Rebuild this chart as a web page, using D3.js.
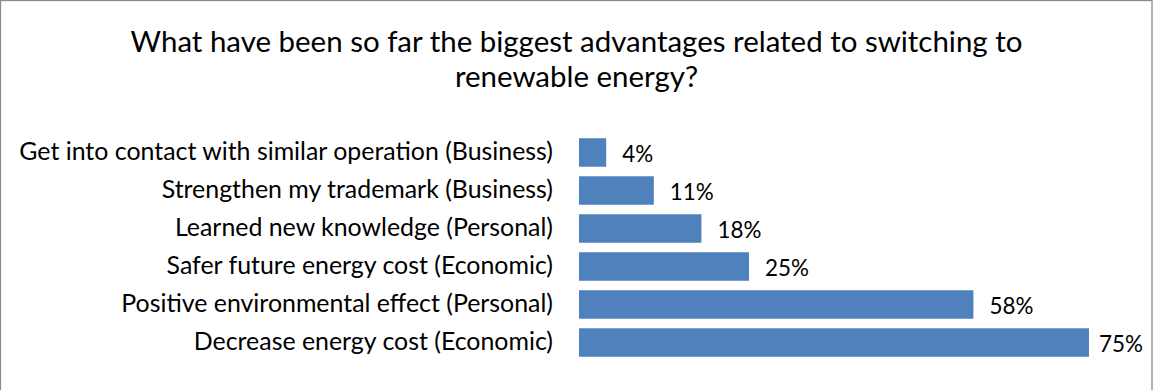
<!DOCTYPE html>
<html>
<head>
<meta charset="utf-8">
<script src="https://cdn.jsdelivr.net/npm/d3@7"></script>
<style>
  html, body { margin: 0; padding: 0; background: #fff; }
  svg { display: block; }
  text { font-family: Lato, "Open Sans", "DejaVu Sans", sans-serif; fill: #000; }
</style>
</head>
<body>
<svg id="chart" width="1153" height="390"></svg>
<script>
// Survey answers, listed top to bottom as shown
const categories = [
  "Get into contact with similar operation (Business)",
  "Strengthen my trademark (Business)",
  "Learned new knowledge (Personal)",
  "Safer future energy cost (Economic)",
  "Positive environmental effect (Personal)",
  "Decrease energy cost (Economic)"
];
const shares = [4, 11, 18, 25, 58, 75];   // percent of respondents
const valueLabels = ["4%", "11%", "18%", "25%", "58%", "75%"];
const titleLines = [
  "What have been so far the biggest advantages related to switching to",
  "renewable energy?"
];

const W = 1153, H = 390;
const svg = d3.select("#chart");

// chart frame
svg.append("rect")
  .attr("x", 0.5).attr("y", 0.5)
  .attr("width", W - 1.5).attr("height", H + 4)
  .attr("fill", "#fff")
  .attr("stroke", "#8c8c8c").attr("stroke-width", 1.3);

// shrink/grow a text selection's font so that its widest item spans `target` px
function fitWidth(sel, target, start) {
  sel.style("font-size", start + "px");
  let widest = 0;
  sel.each(function () { widest = Math.max(widest, this.getComputedTextLength()); });
  sel.style("font-size", (start * target / widest) + "px");
}

// title
const title = svg.append("g").selectAll("text")
  .data(titleLines).join("text")
  .attr("x", W / 2)
  .attr("y", (d, i) => 51.7 + i * 35)
  .attr("text-anchor", "middle")
  .text(d => d);
fitWidth(title.filter((d, i) => i === 0), 892, 26);
title.style("font-size", title.filter((d, i) => i === 0).style("font-size"));

const x = d3.scaleLinear().domain([0, 80]).range([579, 579 + 544]);
const y = d3.scaleBand()
  .domain(categories)
  .range([133.5, 133.5 + 6 * 38])
  .paddingInner(0.25)
  .paddingOuter(0.125);

// bars
svg.append("g").selectAll("rect")
  .data(shares).join("rect")
  .attr("x", x(0))
  .attr("y", (d, i) => y(categories[i]))
  .attr("width", d => x(d) - x(0))
  .attr("height", y.bandwidth())
  .attr("fill", "#4f81bd");

// category axis labels (no axis line or ticks)
const axis = d3.axisLeft(y).tickSize(0).tickPadding(0);
const axisG = svg.append("g")
  .attr("transform", `translate(${553},0)`)
  .call(axis);
axisG.select(".domain").remove();
const catText = axisG.selectAll(".tick text")
  .attr("dy", null)
  .attr("y", 7)
  .attr("fill", "#000")
  .style("font-family", null);
axisG.attr("font-family", null).attr("font-size", null);
fitWidth(catText, 534, 20);

// value labels
const vals = svg.append("g").selectAll("text")
  .data(shares).join("text")
  .attr("y", (d, i) => y(categories[i]) + y.bandwidth() / 2 + 9.5)
  .text((d, i) => valueLabels[i]);
fitWidth(vals.filter((d, i) => i === 5), 44, 20);
vals.style("font-size", vals.filter((d, i) => i === 5).style("font-size"));
vals.attr("x", function (d) {
  const w = this.getComputedTextLength();
  return Math.min(x(d) + 16, 1143 - w);
});
</script>
</body>
</html>
